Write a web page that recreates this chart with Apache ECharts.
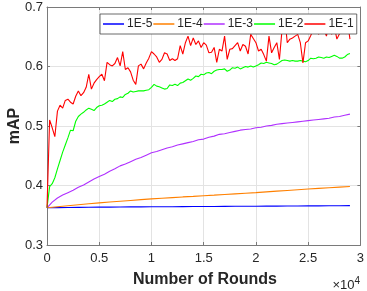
<!DOCTYPE html>
<html><head><meta charset="utf-8">
<script src="https://cdn.jsdelivr.net/npm/echarts@6/dist/echarts.min.js"></script>
<style>html,body{margin:0;padding:0;background:#fff}#c{width:367px;height:291px}</style>
</head><body><div id="c"></div>
<script>
const seriesNames = ['1E-5', '1E-4', '1E-3', '1E-2', '1E-1'];
const seriesColors = ['#0000FF', '#FF8000', '#B030FF', '#00FF00', '#FF0000'];
const xTickLabels = ['0', '0.5', '1', '1.5', '2', '2.5', '3'];
const yTickLabels = ['0.3', '0.4', '0.5', '0.6', '0.7'];

function range(start, stop, step) { const r = []; for (let v = start; v <= stop; v += step) r.push(v); return r; }
const roundsCoarse = range(0, 29000, 1000);  // 30 samples
const roundsMid = range(0, 29000, 500);      // 59 samples
const roundsFine = range(0, 29000, 250);     // 117 samples

const lr1e5 = [0.3625,0.3628,0.3630,0.3632,0.3634,0.3636,0.3637,0.3639,0.3640,0.3641,
  0.3642,0.3643,0.3644,0.3645,0.3646,0.3647,0.3648,0.3649,0.3650,0.3651,
  0.3652,0.3653,0.3654,0.3655,0.3656,0.3657,0.3658,0.3659,0.3660,0.3661];
const lr1e4 = [0.3625,0.3643,0.3660,0.3677,0.3693,0.3708,0.3722,0.3736,0.3749,0.3762,
  0.3775,0.3786,0.3797,0.3808,0.3818,0.3829,0.3839,0.3850,0.3860,0.3871,
  0.3881,0.3893,0.3905,0.3917,0.3929,0.3940,0.3951,0.3962,0.3973,0.3984];
const lr1e3 = [0.3625,0.372,0.379,0.384,0.388,0.392,0.397,0.401,0.406,0.411,
  0.415,0.419,0.424,0.428,0.433,0.436,0.440,0.444,0.447,0.451,
  0.455,0.457,0.460,0.463,0.465,0.468,0.470,0.472,0.474,0.477,
  0.478,0.481,0.483,0.486,0.487,0.489,0.491,0.493,0.494,0.495,
  0.497,0.498,0.500,0.501,0.503,0.504,0.505,0.506,0.507,0.508,
  0.509,0.510,0.511,0.512,0.513,0.515,0.516,0.518,0.520];
const lr1e2 = [
  0.3625,0.398,0.403,0.413, 0.428,0.442,0.456,0.468, 0.480,0.493,0.492,0.508,
  0.516,0.520,0.523,0.527, 0.530,0.528,0.526,0.531, 0.534,0.535,0.537,0.540,
  0.543,0.541,0.545,0.546, 0.549,0.548,0.553,0.555, 0.559,0.557,0.558,0.559,
  0.559,0.559,0.560,0.561, 0.565,0.570,0.567,0.566, 0.564,0.562,0.563,0.569,
  0.568,0.570,0.568,0.572, 0.573,0.576,0.579,0.577, 0.580,0.584,0.583,0.587,
  0.586,0.589,0.590,0.588, 0.592,0.594,0.595,0.595, 0.596,0.592,0.594,0.598,
  0.597,0.599,0.596,0.598, 0.600,0.599,0.601,0.599, 0.601,0.603,0.606,0.605,
  0.607,0.606,0.605,0.603, 0.604,0.607,0.610,0.611, 0.610,0.609,0.610,0.609,
  0.609,0.610,0.609,0.608, 0.610,0.614,0.613,0.614, 0.616,0.615,0.614,0.616,
  0.615,0.617,0.619,0.617, 0.614,0.614,0.616,0.620, 0.622];
const lr1e1 = [
  0.3625,0.510,0.497,0.482, 0.525,0.535,0.530,0.543, 0.545,0.540,0.537,0.550,
  0.559,0.551,0.556,0.565, 0.587,0.562,0.572,0.578, 0.583,0.587,0.576,0.607,
  0.603,0.601,0.605,0.615, 0.601,0.625,0.595,0.598, 0.591,0.577,0.570,0.601,
  0.604,0.596,0.606,0.614, 0.625,0.621,0.616,0.607, 0.612,0.623,0.621,0.610,
  0.613,0.610,0.613,0.635, 0.621,0.640,0.651,0.635, 0.648,0.637,0.643,0.632,
  0.640,0.636,0.623,0.624, 0.632,0.607,0.629,0.626, 0.651,0.612,0.629,0.630,
  0.635,0.640,0.626,0.637, 0.634,0.621,0.654,0.647, 0.640,0.626,0.629,0.620,
  0.609,0.651,0.623,0.632, 0.640,0.612,0.662,0.685, 0.640,0.646,0.648,0.651,
  0.654,0.640,0.606,0.640, 0.643,0.652,0.662,0.679, 0.654,0.674,0.662,0.651,
  0.671,0.654,0.668,0.646, 0.655,0.671,0.657,0.679, 0.646];

const seriesRounds = [roundsCoarse, roundsCoarse, roundsMid, roundsFine, roundsFine];
const seriesValues = [lr1e5, lr1e4, lr1e3, lr1e2, lr1e1];

const axisColor = '#7a7a7a';
const textColor = '#262626';
const font = 'Liberation Sans, Arial, Helvetica, sans-serif';

const chart = echarts.init(document.getElementById('c'), null, {renderer: 'canvas'});
chart.setOption({
  animation: false,
  backgroundColor: '#fff',
  grid: {left: 47, right: 4, top: 7, bottom: 46, containLabel: false},
  legend: {
    data: seriesNames,
    left: 100, top: 14,
    orient: 'horizontal',
    icon: 'rect',
    itemWidth: 21, itemHeight: 1.5, itemGap: 1,
    padding: [4, 3],
    backgroundColor: '#fff',
    borderColor: '#444', borderWidth: 0.8,
    textStyle: {fontFamily: font, fontSize: 12, color: textColor, padding: [0, 0, 0, -2]}
  },
  xAxis: [{
    type: 'value', min: 0, max: 30000, interval: 5000,
    axisLine: {show: true, lineStyle: {color: axisColor, width: 1}},
    axisTick: {show: true, inside: true, length: 3, lineStyle: {color: axisColor}},
    axisLabel: {margin: 7, fontFamily: font, fontSize: 13, color: textColor,
      formatter: v => xTickLabels[Math.round(v / 5000)]},
    splitLine: {show: true, lineStyle: {color: '#e3e3e3', width: 1}}
  }, {
    type: 'value', position: 'top', min: 0, max: 30000, interval: 5000,
    axisLine: {show: true, onZero: false, lineStyle: {color: axisColor, width: 1}},
    axisTick: {show: true, inside: true, length: 3, lineStyle: {color: axisColor}},
    axisLabel: {show: false}, splitLine: {show: false}
  }],
  yAxis: [{
    type: 'value', min: 0.3, max: 0.7, interval: 0.1,
    axisLine: {show: true, lineStyle: {color: axisColor, width: 1}},
    axisTick: {show: true, inside: true, length: 3, lineStyle: {color: axisColor}},
    axisLabel: {margin: 4, fontFamily: font, fontSize: 13, color: textColor,
      formatter: v => yTickLabels[Math.round((v - 0.3) / 0.1)]},
    splitLine: {show: true, lineStyle: {color: '#e3e3e3', width: 1}}
  }, {
    type: 'value', position: 'right', min: 0.3, max: 0.7, interval: 0.1,
    axisLine: {show: true, onZero: false, lineStyle: {color: axisColor, width: 1}},
    axisTick: {show: true, inside: true, length: 3, lineStyle: {color: axisColor}},
    axisLabel: {show: false}, splitLine: {show: false}
  }],
  series: seriesNames.map((name, i) => ({
    name: name, type: 'line', xAxisIndex: 0, yAxisIndex: 0,
    symbol: 'none', showSymbol: false,
    lineStyle: {color: seriesColors[i], width: 1.1},
    itemStyle: {color: seriesColors[i]},
    data: seriesRounds[i].map((r, j) => [r, seriesValues[i][j]])
  })),
  graphic: [
    {type: 'text', x: 15, y: 126, rotation: Math.PI / 2,
      style: {text: 'mAP', fontFamily: font, fontSize: 16, fontWeight: 'bold', fill: textColor,
        align: 'center', verticalAlign: 'middle'}},
    {type: 'text', x: 205, y: 280,
      style: {text: 'Number of Rounds', fontFamily: font, fontSize: 16, fontWeight: 'bold', fill: textColor,
        align: 'center', verticalAlign: 'middle'}},
    {type: 'text', x: 360, y: 285,
      style: {text: '×10{s|4}', rich: {s: {fontSize: 10, verticalAlign: 'top', padding: [0,0,8,0], fontFamily: font, fill: textColor}},
        fontFamily: font, fontSize: 13, fill: textColor, align: 'right', verticalAlign: 'middle'}}
  ]
});
</script></body></html>
